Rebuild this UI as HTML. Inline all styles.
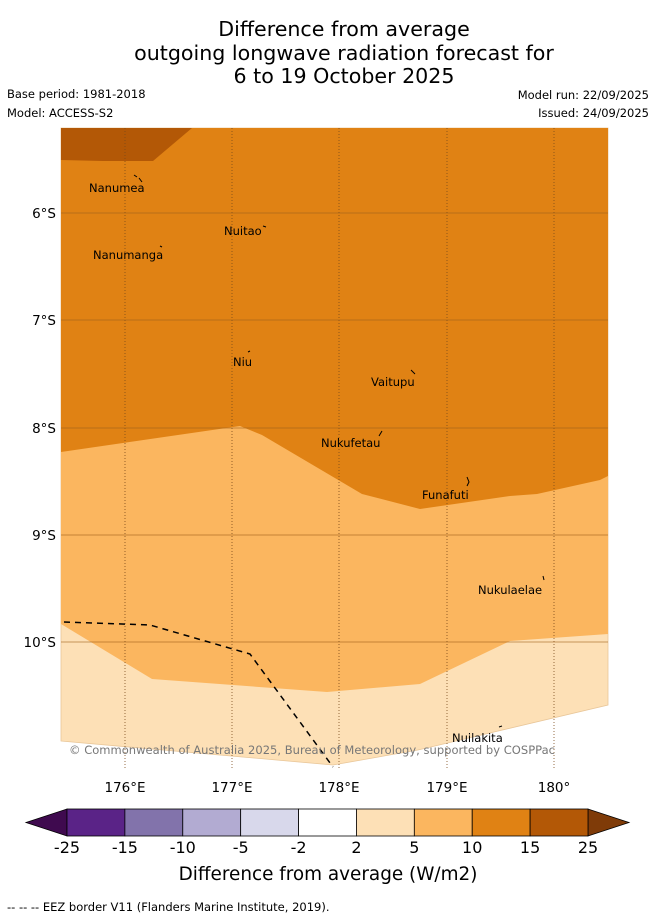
<!DOCTYPE html>
<html><head><meta charset="utf-8"><style>
body{margin:0;background:#fff;font-family:"DejaVu Sans","Liberation Sans",sans-serif}
</style></head><body>
<svg width="655" height="919" xmlns="http://www.w3.org/2000/svg" font-family="DejaVu Sans, Liberation Sans, sans-serif">
<g text-anchor="middle" font-size="20.6" fill="#000">
<text x="344" y="36">Difference from average</text>
<text x="344" y="60">outgoing longwave radiation forecast for</text>
<text x="344" y="83">6 to 19 October 2025</text>
</g>
<g font-size="11.5" fill="#000">
<text x="7" y="98">Base period: 1981-2018</text>
<text x="7" y="117">Model: ACCESS-S2</text>
<text x="649" y="99" text-anchor="end">Model run: 22/09/2025</text>
<text x="649" y="117" text-anchor="end">Issued: 24/09/2025</text>
</g>
<g id="map">
<rect x="61" y="128" width="547" height="642" fill="#fff"/>
<polygon fill="#fde0b6" stroke="#e9c79a" stroke-width="0.8" points="61,128 608,128 608,705 418,750 333,765 61,741"/>
<polygon fill="#fbb65f" points="61,128 608,128 608,634 510,641 420,684 327,692 152,679 61,624"/>
<polygon fill="#e08214" points="61,128 608,128 608,476 600,480 537,494 510,496 420,509 362,494 262,435 240,426 61,452"/>
<polygon fill="#b35806" points="61,128 192,128 153,161 103,161 61,160"/>
<g stroke="#7a4a1a" stroke-width="1" stroke-dasharray="1,2" opacity="0.8">
<line x1="125" y1="128" x2="125" y2="770"/><line x1="232" y1="128" x2="232" y2="770"/><line x1="339" y1="128" x2="339" y2="770"/><line x1="447" y1="128" x2="447" y2="770"/><line x1="554" y1="128" x2="554" y2="770"/>
</g>
<g stroke="#a0601a" stroke-width="1" opacity="0.6">
<line x1="61" y1="213" x2="608" y2="213"/><line x1="61" y1="320" x2="608" y2="320"/><line x1="61" y1="428" x2="608" y2="428"/><line x1="61" y1="535" x2="608" y2="535"/><line x1="61" y1="642" x2="608" y2="642"/>
</g>
<polyline fill="none" stroke="#000" stroke-width="1.5" stroke-dasharray="6,5" points="64,622 150,625 250,654 333,767"/>
<g font-size="11.5" fill="#000">
<text x="89" y="192">Nanumea</text><path d="M134,175 l3,2 M139,178 l3,4" stroke="#000"/>
<text x="224" y="235">Nuitao</text><path d="M263,226 l3,1" stroke="#000"/>
<text x="93" y="259">Nanumanga</text><path d="M160,246 l2,1" stroke="#000"/>
<text x="233" y="366">Niu</text><path d="M248,352 l2,-1" stroke="#000"/>
<text x="371" y="386">Vaitupu</text><path d="M411,370 l4,4" stroke="#000"/>
<text x="321" y="447">Nukufetau</text><path d="M379,436 l3,-5" stroke="#000"/>
<text x="422" y="499">Funafuti</text><path d="M467,477 l2,5 l-2,4" stroke="#000" fill="none"/>
<text x="478" y="594">Nukulaelae</text><path d="M543,576 l1,4" stroke="#000"/>
<text x="452" y="742">Nuilakita</text><path d="M499,727 l3,-1" stroke="#000"/>
</g>
<text x="312" y="754" text-anchor="middle" font-size="11.5" fill="#777" textLength="486">© Commonwealth of Australia 2025, Bureau of Meteorology, supported by COSPPac</text>
</g>
<g font-size="13.5" fill="#000" text-anchor="end">
<text x="56" y="218">6°S</text><text x="56" y="325">7°S</text><text x="56" y="433">8°S</text><text x="56" y="540">9°S</text><text x="56" y="647">10°S</text>
</g>
<g font-size="13.5" fill="#000" text-anchor="middle">
<text x="125" y="792">176°E</text><text x="232" y="792">177°E</text><text x="339" y="792">178°E</text><text x="447" y="792">179°E</text><text x="554" y="792">180°</text>
</g>
<g id="cbar"></g>
<text x="328" y="880" text-anchor="middle" font-size="18.4" fill="#000">Difference from average (W/m2)</text>
<text x="7" y="911" font-size="11.5" fill="#000">-- -- -- EEZ border V11 (Flanders Marine Institute, 2019).</text>
</svg>
<script>
const cbarColors=["#5a2387","#8273ab","#b2abd2","#d8d8eb","#ffffff","#fde0b6","#fbb65f","#e08214","#b35806"];
const cbarTicks=["-25","-15","-10","-5","-2","2","5","10","15","25"];
const ns="http://www.w3.org/2000/svg";
const g=document.getElementById('cbar');
const x0=67,x1=588,y=809,h=27,w=(x1-x0)/cbarColors.length;
function mk(t,a){const e=document.createElementNS(ns,t);for(const k in a)e.setAttribute(k,a[k]);g.appendChild(e);return e;}
let l=mk('polygon',{points:`${x0},${y} ${x0},${y+h} 26,${y+h/2}`,fill:'#3f0a4f',stroke:'#000','stroke-width':0.8});


let r=mk('polygon',{points:`${x1},${y} ${x1},${y+h} 629,${y+h/2}`,fill:'#7f3b08',stroke:'#000','stroke-width':0.8});


cbarColors.forEach((c,i)=>{
 const e=mk('rect',{x:x0+i*w,y:y,width:w,height:h,fill:c,stroke:'#000','stroke-width':0.8});
 
 
});
cbarTicks.forEach((t,i)=>{
 const e=mk('text',{x:x0+i*w,y:853,'text-anchor':'middle','font-size':16,fill:'#000'});
 e.textContent=t;
 
 
});
</script>
</body></html>
